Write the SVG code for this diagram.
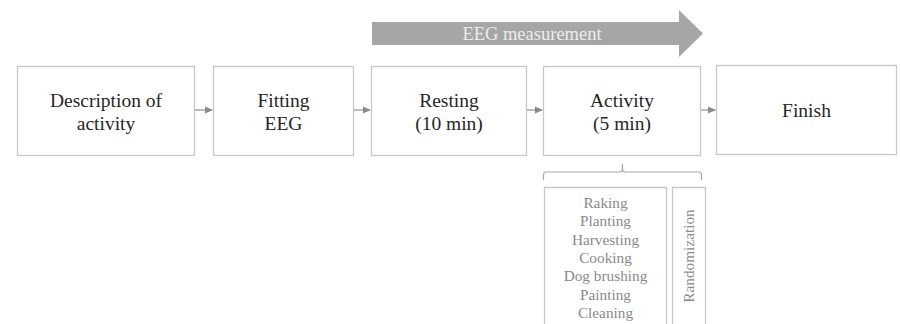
<svg xmlns="http://www.w3.org/2000/svg" width="900" height="324" viewBox="0 0 900 324">
<defs>
<style>
.box{fill:#fff;stroke:#c8c8c8;stroke-width:1.3}
.c{stroke:#9a9a9a;stroke-width:1.3;fill:none}
.br{stroke:#a8a8a8;stroke-width:1.2;fill:none}
</style>
<marker id="ah" markerWidth="8" markerHeight="8" refX="7" refY="4" orient="auto" markerUnits="userSpaceOnUse">
<path d="M0,0.5 L8,4 L0,7.5 Z" fill="#8a8a8a"/>
</marker>
</defs>
<rect width="900" height="324" fill="#fff"/>
<g id="eeg-measurement">
<path d="M372,22 L679,22 L679,10 L703,33.5 L679,57 L679,45 L372,45 Z" fill="#a6a6a6"/>
<text x="532" y="40" font-family="Liberation Serif, Times New Roman, serif" font-size="18.5" fill="#ececec" text-anchor="middle">EEG measurement</text>
</g>
<g font-family="Liberation Serif, Times New Roman, serif" font-size="19.5" fill="#262626" text-anchor="middle">
<g id="description">
<rect class="box" x="17.5" y="66.5" width="177" height="89"/>
<text x="106" y="107">Description of</text>
<text x="106" y="130">activity</text>
</g>
<g id="fitting">
<rect class="box" x="213.5" y="66.5" width="140" height="89"/>
<text x="283.5" y="107">Fitting</text>
<text x="283.5" y="130">EEG</text>
</g>
<g id="resting">
<rect class="box" x="371.5" y="66.5" width="155" height="89"/>
<text x="449" y="107">Resting</text>
<text x="449" y="130">(10 min)</text>
</g>
<g id="activity">
<rect class="box" x="543.5" y="66.5" width="157" height="89"/>
<text x="622" y="107">Activity</text>
<text x="622" y="130">(5 min)</text>
</g>
<g id="finish">
<rect class="box" x="716.5" y="65.5" width="180" height="89"/>
<text x="806.5" y="117">Finish</text>
</g>
</g>
<g id="connectors">
<line class="c" x1="195" y1="110" x2="212" y2="110" marker-end="url(#ah)"/>
<line class="c" x1="354" y1="110" x2="370" y2="110" marker-end="url(#ah)"/>
<line class="c" x1="527" y1="110" x2="542" y2="110" marker-end="url(#ah)"/>
<line class="c" x1="701" y1="110" x2="715" y2="110" marker-end="url(#ah)"/>
<path class="br" d="M622.5,164 L622.5,169 Q622.5,172 619.5,172 L546,172 Q543.5,172 543.5,175 L543.5,180 M622.5,169 Q622.5,172 625.5,172 L699,172 Q701.5,172 701.5,175 L701.5,180"/>
</g>
<g font-family="Liberation Serif, Times New Roman, serif" font-size="15.3" fill="#8a8a8a" text-anchor="middle">
<g id="activity-list">
<path class="box" d="M544.5,324 L544.5,187.5 L666.5,187.5 L666.5,324" fill="none"/>
<text x="605.5" y="208">Raking</text>
<text x="605.5" y="226.3">Planting</text>
<text x="605.5" y="244.6">Harvesting</text>
<text x="605.5" y="262.9">Cooking</text>
<text x="605.5" y="281.2">Dog brushing</text>
<text x="605.5" y="299.5">Painting</text>
<text x="605.5" y="317.8">Cleaning</text>
</g>
<g id="randomization">
<path class="box" d="M672.5,324 L672.5,187.5 L705.5,187.5 L705.5,324" fill="none"/>
<text transform="translate(694,256) rotate(-90)" x="0" y="0">Randomization</text>
</g>
</g>
</svg>
